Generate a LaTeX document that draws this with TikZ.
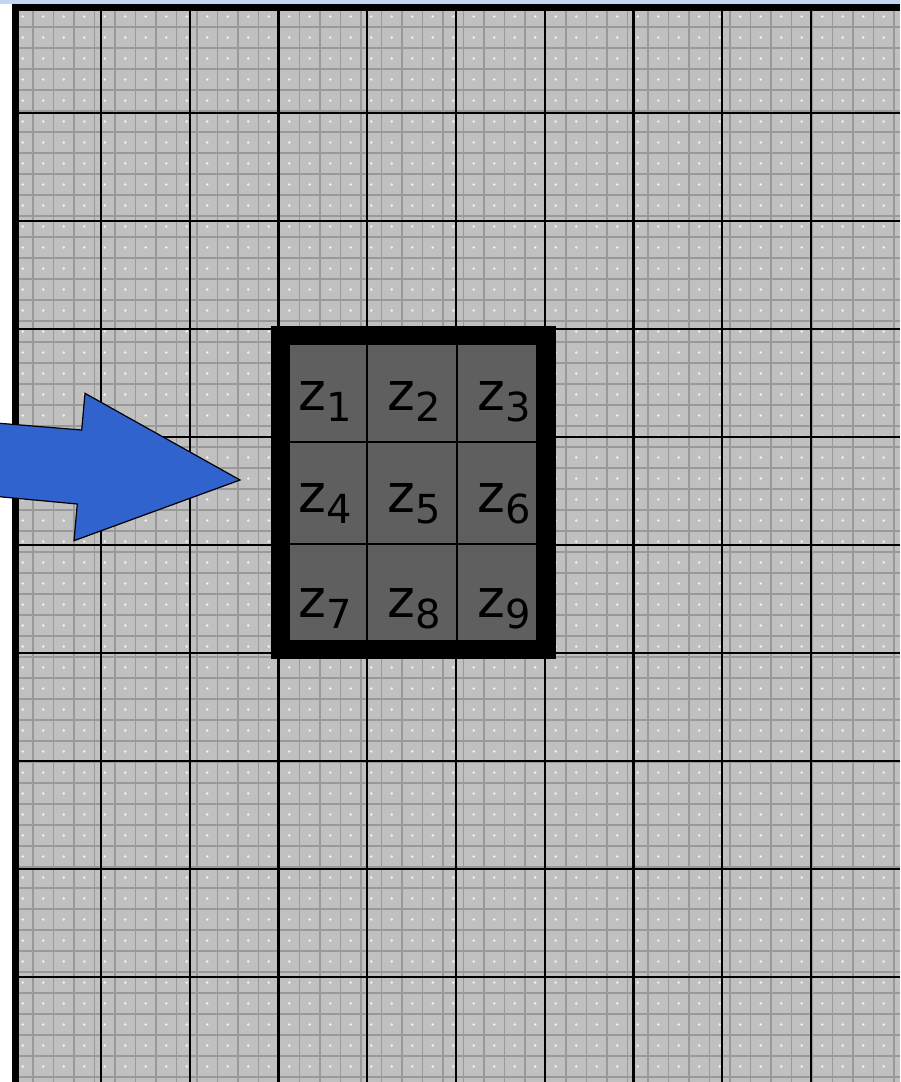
\documentclass[tikz,border=0pt]{standalone}
\usepackage{fontspec}
\setmainfont{DejaVu Sans}
\usetikzlibrary{positioning}

\definecolor{topblue}{HTML}{C2D6F2}
\definecolor{sheetgray}{HTML}{C0C0C0}
\definecolor{cellgray}{HTML}{5F5F5F}
\definecolor{arrowblue}{HTML}{3163CE}

\newcommand{\zsub}[1]{z\raisebox{-11pt}{\fontsize{40}{40}\selectfont #1}}

\begin{document}
\begin{tikzpicture}[
  x=1pt,y=-1pt,
  fineline/.style={draw=black!40,line width=1.3pt},
  majorline/.style={draw=black,line width=2.4pt},
  cellbox/.style={draw=black,line width=1.4pt,fill=cellgray,inner sep=0pt},
  zlab/.style={anchor=base,inner sep=0pt,text=black,font=\fontsize{53}{53}\selectfont}
]
  \useasboundingbox (0,0) rectangle (900,1082);
  \clip (0,0) rectangle (900,1082);
  \fill[topblue] (0,0) rectangle (900,4);
  \fill[sheetgray] (12,4) rectangle (900,1082);

  % fine sheet pattern
  \foreach \i in {0,...,43}
    \draw[fineline] ({12.5+20.5*\i},4) -- ({12.5+20.5*\i},1082);
  \foreach \j in {0,...,51}
    \draw[fineline] (12,{6+21*\j}) -- (900,{6+21*\j});
  \foreach \i in {0,...,43}
    \foreach \j in {0,...,51}
      \fill[white!90!gray] ({22.75+20.5*\i},{16.5+21*\j}) circle (1.3pt);

  % major grid
  \foreach \i in {1,...,9}
    \draw[majorline] ({12.25+88.75*\i},4) -- ({12.25+88.75*\i},1082);
  \foreach \j in {1,...,9}
    \draw[majorline] (12,{5+108*\j}) -- (900,{5+108*\j});
  \draw[line width=7pt] (15.5,1082) -- (15.5,7) -- (900,7);

  % window
  \draw[line width=18pt,fill=cellgray] (280,335) rectangle (546.5,649.5);
  \node[cellbox,minimum width=78pt,minimum height=98pt] (c1) at (328,393) {};
  \node[cellbox,minimum width=90pt,minimum height=98pt] (c2) at (412,393) {};
  \node[cellbox,minimum width=80pt,minimum height=98pt] (c3) at (497,393) {};
  \node[cellbox,minimum width=78pt,minimum height=102pt] (c4) at (328,493) {};
  \node[cellbox,minimum width=90pt,minimum height=102pt] (c5) at (412,493) {};
  \node[cellbox,minimum width=80pt,minimum height=102pt] (c6) at (497,493) {};
  \node[cellbox,minimum width=78pt,minimum height=97pt] (c7) at (328,592.5) {};
  \node[cellbox,minimum width=90pt,minimum height=97pt] (c8) at (412,592.5) {};
  \node[cellbox,minimum width=80pt,minimum height=97pt] (c9) at (497,592.5) {};
  \draw[line width=18pt] (280,335) rectangle (546.5,649.5);

  \node[zlab] (z1) at (325,410) {\zsub{1}};
  \node[zlab] (z2) at (414,410) {\zsub{2}};
  \node[zlab] (z3) at (504,410) {\zsub{3}};
  \node[zlab] (z4) at (325,512) {\zsub{4}};
  \node[zlab] (z5) at (414,512) {\zsub{5}};
  \node[zlab] (z6) at (504,512) {\zsub{6}};
  \node[zlab] (z7) at (325,617) {\zsub{7}};
  \node[zlab] (z8) at (414,617) {\zsub{8}};
  \node[zlab] (z9) at (504,617) {\zsub{9}};

  % arrow
  \draw[fill=arrowblue,line width=1.2pt]
    (-5,422.9) -- (81.7,430) -- (85,393.3) -- (240,480)
    -- (74,540.7) -- (77.3,504) -- (-5,496.3) -- cycle;
\end{tikzpicture}
\end{document}
